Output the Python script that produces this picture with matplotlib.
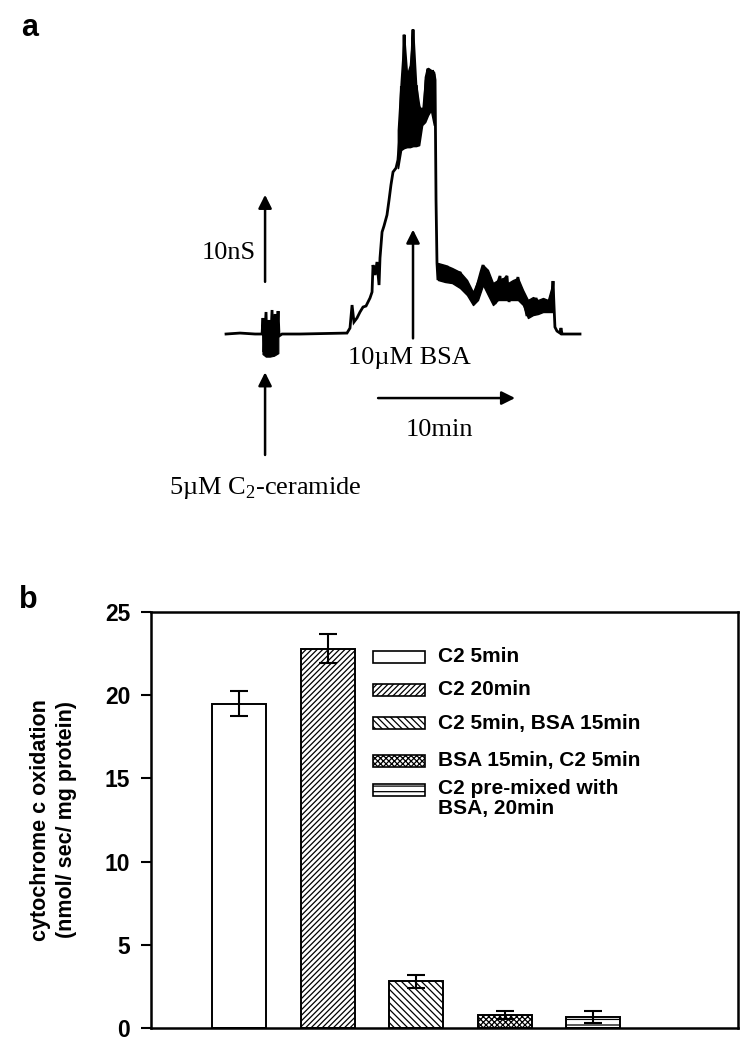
"""Two-panel figure: (a) conductance trace after C2-ceramide / BSA, (b) cytochrome c oxidation bars."""

import matplotlib
matplotlib.use("Agg")
import matplotlib.pyplot as plt
from matplotlib.patches import Rectangle
import numpy as np

plt.rcParams["mathtext.fontset"] = "custom"
plt.rcParams["mathtext.rm"] = "Liberation Serif"
plt.rcParams["hatch.linewidth"] = 0.9

# ---- panel a: conductance trace (time in min, conductance in nS) ----
trace_t = [0.0, 1.02, 2.12, 2.63, 2.70, 2.77, 2.92, 3.00, 3.14, 3.21, 3.36, 3.43, 3.58, 3.65,
           3.80, 3.87, 4.09, 5.40, 8.83, 9.05, 9.20, 9.34, 9.56, 9.78, 10.0, 10.22, 10.51,
           10.66, 10.73, 10.88, 11.02, 11.17, 11.24, 11.39, 11.53, 11.75, 11.90, 12.04, 12.19,
           12.41, 12.55, 12.70, 12.80, 12.90, 13.00, 13.10, 13.25, 13.40, 13.55, 13.65, 13.75,
           13.90, 14.10, 14.30, 14.45, 14.60, 14.75, 14.90, 15.05, 15.20, 15.26, 15.33, 15.40,
           15.47, 15.69, 15.91, 16.13, 16.35, 16.57, 16.79, 17.08, 17.30, 17.59, 17.81, 18.03,
           18.25, 18.39, 18.61, 18.76, 18.91, 19.05, 19.27, 19.42, 19.64, 19.78, 20.0, 20.15,
           20.29, 20.51, 20.66, 20.88, 21.09, 21.31, 21.46, 21.68, 21.97, 22.19, 22.41, 22.63,
           22.92, 23.14, 23.36, 23.58, 23.72, 23.87, 23.94, 24.01, 24.16, 24.38, 24.45, 24.53,
           25.84]
trace_g = [0.0, 0.11, 0.0, 0.0, 1.84, -2.07, 2.53, -2.53, 1.61, -2.64, 2.76, -2.41, 2.30, -2.30,
           2.64, -0.23, 0.0, 0.0, 0.11, 0.69, 3.33, 1.38, 1.84, 2.53, 3.10, 3.22, 4.14,
           4.83, 7.93, 6.78, 8.28, 5.63, 8.74, 11.72, 12.41, 13.68, 15.4, 17.13, 18.62,
           19.08, 20.0, 22.87, 28.5, 21.5, 34.4, 22.0, 30.0, 21.8, 31.0, 35.0, 22.0,
           28.6, 22.5, 26.0, 24.5, 29.5, 30.5, 25.8, 30.3, 29.8, 29.2, 15.4, 8.16,
           6.21, 7.59, 6.67, 7.82, 6.44, 7.36, 6.21, 7.13, 5.75, 5.52, 4.37, 3.91,
           5.06, 5.86, 7.13, 7.93, 6.44, 7.36, 5.06, 4.48, 3.45, 5.63, 6.67, 3.91,
           6.21, 6.67, 3.68, 5.52, 4.83, 6.55, 3.91, 4.37, 2.07, 3.91, 2.99, 4.14,
           2.53, 3.91, 2.76, 3.91, 2.53, 6.09, 3.33, 0.80, 0.34, 0.11, 0.69, 0.0,
           0.0]

# dense noise envelopes
band_t = [12.55, 12.77, 12.99, 13.21, 13.43, 13.65, 13.87, 14.09, 14.31, 14.53, 14.74, 14.96, 15.18]
band_hi = [23.45, 29.2, 34.37, 29.77, 30.92, 34.94, 28.62, 26.32, 25.17, 29.2, 30.57, 30.34, 30.11]
band_lo = [19.08, 21.15, 21.38, 21.49, 21.49, 21.61, 21.61, 21.72, 24.02, 24.37, 25.17, 25.75, 24.02]
burst_t = [2.66, 2.9, 3.2, 3.5, 3.82]
burst_hi = [0.9, 1.1, 1.0, 1.2, 0.8]
burst_lo = [-2.3, -2.6, -2.6, -2.5, -2.2]
plateau_t = [15.47, 15.99, 16.50, 17.08, 17.59, 18.03, 18.39, 18.76, 19.12, 19.49, 19.85,
             20.22, 20.58, 20.95, 21.31, 21.68, 22.04, 22.41, 22.77, 23.14, 23.50, 23.87]
plateau_hi = [8.16, 7.93, 7.59, 7.13, 6.21, 4.83, 6.21, 7.93, 7.36, 5.86, 6.21,
              6.44, 5.86, 6.21, 6.44, 5.06, 3.91, 4.25, 3.91, 4.14, 3.91, 5.98]
plateau_lo = [6.21, 5.98, 5.86, 5.29, 4.48, 3.33, 3.91, 5.63, 4.48, 3.33, 3.91,
              3.91, 3.91, 3.91, 3.91, 3.33, 1.84, 2.18, 2.30, 2.53, 2.53, 2.53]

# ---- panel b: bar chart ----
categories = ["C2 5min", "C2 20min", "C2 5min, BSA 15min", "BSA 15min, C2 5min",
              "C2 pre-mixed with\nBSA, 20min"]
oxidation = [19.5, 22.8, 2.8, 0.8, 0.65]
oxidation_err = [0.75, 0.85, 0.4, 0.25, 0.35]
yticks = [0, 5, 10, 15, 20, 25]

hatches = ["", "//////", "\\\\\\\\\\", "xxxxxx", "---"]

fig = plt.figure(figsize=(7.5, 10.5), dpi=100)

# panel a: axis-less trace; limits chosen so the trace sits where the original does
ax_a = fig.add_axes([0, 0.5, 1, 0.5])
ax_a.set_xlim(-16.5, 38.25)
ax_a.set_ylim(-21.95, 38.39)
ax_a.axis("off")
ax_a.plot(trace_t, trace_g, color="black", lw=2.0, solid_joinstyle="miter")
ax_a.fill_between(band_t, band_lo, band_hi, color="black", lw=1.2)
ax_a.fill_between(burst_t, burst_lo, burst_hi, color="black", lw=0.8)
ax_a.fill_between(plateau_t, plateau_lo, plateau_hi, color="black", lw=1.0)

arrow = dict(arrowstyle="-|>", color="black", lw=1.8, mutation_scale=20, shrinkA=0, shrinkB=0)
serif = dict(family="Liberation Serif", fontsize=19, color="black")

ax_a.annotate("", xy=(2.85, 16.0), xytext=(2.85, 6.0), arrowprops=arrow)
ax_a.text(2.15, 9.3, "10nS", ha="right", va="center", **serif)
ax_a.annotate("", xy=(13.65, 12.0), xytext=(13.65, -0.5), arrowprops=arrow)
ax_a.text(13.36, -2.7, "10µM BSA", ha="center", va="center", **serif)
ax_a.annotate("", xy=(21.1, -7.36), xytext=(11.1, -7.36), arrowprops=arrow)
ax_a.text(15.6, -11.0, "10min", ha="center", va="center", **serif)
ax_a.annotate("", xy=(2.85, -4.4), xytext=(2.85, -13.9), arrowprops=arrow)
ax_a.text(2.85, -17.7, "5µM C$_2$-ceramide", ha="center", va="center", **serif)

fig.text(0.04, 0.973, "a", family="Liberation Sans", fontweight="bold", fontsize=22,
         ha="center", va="center")
fig.text(0.038, 0.429, "b", family="Liberation Sans", fontweight="bold", fontsize=22,
         ha="center", va="center")

# panel b
ax_b = fig.add_axes([0.2013, 0.02095, 0.7827, 0.3962])
x = np.arange(1, len(oxidation) + 1)
ax_b.bar(x, oxidation, width=0.61, color="white", edgecolor="black", lw=1.4,
         hatch=hatches, zorder=2)
ax_b.errorbar(x, oxidation, yerr=oxidation_err, fmt="none", ecolor="black",
              elinewidth=1.5, capsize=6.5, capthick=1.5, zorder=3)
ax_b.set_xlim(0, 6.64)
ax_b.set_ylim(0, 25)
ax_b.set_xticks([])
ax_b.set_yticks(yticks)
ax_b.set_yticklabels([str(v) for v in yticks], family="Liberation Sans",
                     fontweight="bold", fontsize=16.5)
ax_b.tick_params(axis="y", direction="out", length=7, width=1.5, pad=8)
for sp in ax_b.spines.values():
    sp.set_linewidth(1.8)
ax_b.set_ylabel("cytochrome c oxidation\n(nmol/ sec/ mg protein)", family="Liberation Sans",
                fontweight="bold", fontsize=15.5, labelpad=20, linespacing=1.3)

# legend drawn by hand so the rows line up with the original
handle_x, handle_w, handle_h = 0.378, 0.089, 0.029
rows_y = [0.892, 0.813, 0.733, 0.642, 0.572]
for label, h, yy in zip(categories, hatches, rows_y):
    ax_b.add_patch(Rectangle((handle_x, yy - handle_h / 2), handle_w, handle_h,
                             transform=ax_b.transAxes, facecolor="white", edgecolor="black",
                             lw=1.2, hatch=h, clip_on=False))
    ty = yy if "\n" not in label else yy - 0.021
    ax_b.text(0.489, ty, label, transform=ax_b.transAxes, ha="left", va="center",
              family="Liberation Sans", fontweight="bold", fontsize=15, linespacing=1.05)

fig.savefig("out.png", dpi=100)
